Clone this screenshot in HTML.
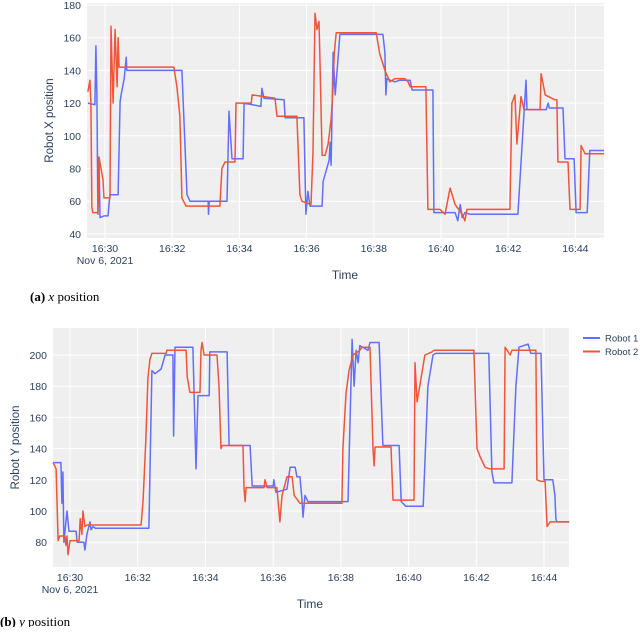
<!DOCTYPE html>
<html><head><meta charset="utf-8"><style>
body{margin:0;background:#fff;width:640px;height:627px;overflow:hidden}
svg text{font-family:"Liberation Sans",sans-serif}
svg text.caption{font-family:"Liberation Serif",serif}
</style></head><body>
<svg id="svg" width="640" height="627"></svg>
<script>
const xTicks=[1,3,5,7,9,11,13,15];
const xTickLabels=["16:30","16:32","16:34","16:36","16:38","16:40","16:42","16:44"];
const topYTicks=[40,60,80,100,120,140,160,180];
const botYTicks=[80,100,120,140,160,180,200];
const seriesNames=["Robot 1","Robot 2"];
const xRobot1=[[0.49,120],[0.70,119],[0.73,155],[0.76,125],[0.79,52],[0.82,87],[0.85,50],[0.97,51],[1.09,51],[1.12,58],[1.15,64],[1.39,64],[1.45,121],[1.48,125],[1.57,135],[1.63,148],[1.65,140],[3.29,140],[3.44,64],[3.53,60],[4.07,60],[4.08,52],[4.10,60],[4.63,60],[4.69,115],[4.78,86],[5.11,86],[5.14,120],[5.64,118],[5.67,129],[5.73,123],[6.33,122],[6.36,111],[6.92,111],[6.98,52],[7.04,66],[7.10,57],[7.46,57],[7.49,72],[7.67,85],[7.70,96],[7.73,82],[7.79,151],[7.85,125],[7.99,162],[9.27,162],[9.33,151],[9.36,125],[9.39,135],[9.48,134],[9.63,133],[9.78,134],[10.08,134],[10.14,128],[10.76,128],[10.79,53],[11.42,53],[11.50,48],[11.57,58],[11.63,50],[11.71,53],[11.86,52],[13.29,52],[13.53,134],[13.56,116],[14.13,116],[14.19,120],[14.22,117],[14.63,117],[14.69,86],[14.96,86],[15.02,53],[15.35,53],[15.43,91],[15.85,91]];
const xRobot2=[[0.49,127],[0.55,134],[0.58,120],[0.61,56],[0.64,53],[0.79,53],[0.82,87],[0.94,73],[0.97,62],[1.15,62],[1.18,167],[1.24,120],[1.30,165],[1.36,130],[1.39,160],[1.42,142],[3.05,142],[3.14,130],[3.23,112],[3.29,62],[3.41,57],[4.42,57],[4.48,80],[4.57,84],[4.87,84],[4.90,120],[5.35,120],[5.38,125],[6.06,123],[6.12,112],[6.71,112],[6.80,64],[6.86,60],[7.13,58],[7.19,90],[7.25,175],[7.31,165],[7.37,170],[7.40,145],[7.46,88],[7.55,88],[7.64,95],[7.73,110],[7.79,130],[7.82,150],[7.88,163],[9.07,163],[9.18,150],[9.33,140],[9.48,133],[9.63,135],[9.93,135],[10.02,133],[10.08,130],[10.55,130],[10.61,55],[10.97,55],[11.12,52],[11.27,68],[11.42,58],[11.63,52],[11.71,48],[11.77,55],[13.05,55],[13.11,120],[13.20,125],[13.26,95],[13.38,124],[13.47,116],[13.95,116],[13.98,138],[14.10,125],[14.39,122],[14.45,122],[14.48,84],[14.78,84],[14.84,55],[15.14,55],[15.17,94],[15.29,89],[15.85,89]];
const yRobot1=[[0.50,131],[0.73,131],[0.76,105],[0.79,125],[0.82,80],[0.91,100],[0.97,87],[1.18,87],[1.21,80],[1.41,80],[1.44,75],[1.50,85],[1.59,93],[1.62,88],[1.68,90],[1.75,89],[3.33,89],[3.42,190],[3.51,188],[3.69,191],[3.81,200],[4.04,200],[4.06,148],[4.10,205],[4.63,205],[4.72,127],[4.78,174],[5.11,174],[5.13,202],[5.64,202],[5.70,142],[6.32,142],[6.38,116],[7.00,116],[7.02,120],[7.08,112],[7.41,114],[7.50,128],[7.65,128],[7.70,122],[7.79,122],[7.85,108],[7.88,96],[7.94,110],[8.03,106],[9.21,106],[9.33,210],[9.39,180],[9.45,203],[9.51,195],[9.56,206],[9.80,203],[9.86,208],[10.13,208],[10.24,142],[10.72,142],[10.78,106],[10.92,103],[11.43,103],[11.57,180],[11.72,200],[11.80,201],[13.37,201],[13.46,125],[13.52,118],[14.05,118],[14.17,180],[14.26,205],[14.53,207],[14.61,201],[14.91,201],[15.0,120],[15.26,120],[15.32,110],[15.35,95],[15.38,93],[15.74,93]];
const yRobot2=[[0.50,131],[0.59,127],[0.65,81],[0.70,84],[0.85,84],[0.88,78],[0.91,84],[0.94,72],[1.0,81],[1.27,81],[1.30,95],[1.35,85],[1.38,100],[1.44,90],[1.50,91],[3.10,91],[3.16,107],[3.24,145],[3.30,185],[3.36,197],[3.42,201],[3.84,201],[3.86,203],[4.43,203],[4.46,186],[4.54,176],[4.84,176],[4.87,203],[4.90,208],[4.96,200],[5.34,200],[5.40,180],[5.46,140],[5.50,142],[6.11,142],[6.14,115],[6.17,106],[6.20,115],[6.73,115],[6.76,120],[6.82,115],[7.11,115],[7.20,93],[7.26,110],[7.41,122],[7.56,122],[7.62,110],[7.79,105],[9.03,105],[9.06,140],[9.15,175],[9.24,190],[9.36,200],[9.56,203],[9.62,205],[9.86,205],[9.95,140],[9.98,129],[10.01,141],[10.48,141],[10.54,107],[11.16,107],[11.19,195],[11.25,170],[11.48,200],[11.69,202],[11.75,203],[12.93,203],[13.02,140],[13.11,135],[13.26,128],[13.40,127],[13.82,127],[13.85,205],[14.0,200],[14.05,203],[14.76,203],[14.79,120],[14.91,119],[15.03,119],[15.09,90],[15.18,93],[15.74,93]];

const NS="http://www.w3.org/2000/svg";
const svg=document.getElementById('svg');
function mk(tag,attrs,parent,txt){const e=document.createElementNS(NS,tag);for(const k in attrs)e.setAttribute(k,attrs[k]);if(txt!==undefined)e.textContent=txt;(parent||svg).appendChild(e);return e;}
const COLORS=["#636efa","#ef553b"];

function chart(cfg){
  const g=mk('g',{});
  
  
  const xs=t=>cfg.x0+(t-cfg.t0)*cfg.pxPerMin;
  const ys=v=>cfg.yRef+(cfg.vRef-v)*cfg.pxPerUnit;
  const bg=mk('rect',{x:cfg.L,y:cfg.T,width:cfg.R-cfg.L,height:cfg.B-cfg.T,fill:'#efefef'},g);
  
  
  cfg.yTicks.forEach(v=>{
    const y=ys(v);
    const gl=mk('line',{x1:cfg.L,x2:cfg.R,y1:y,y2:y,stroke:'#fff','stroke-width':1},g);
    
    
    const tl=mk('text',{x:cfg.L-6,y:y+4,'text-anchor':'end','font-size':10.5,fill:'#2a3f5f'},g,String(v));
    
    
  });
  xTicks.forEach((t,i)=>{
    const x=xs(t);
    const gl=mk('line',{x1:x,x2:x,y1:cfg.T,y2:cfg.B,stroke:'#fff','stroke-width':1},g);
    
    
    const tl=mk('text',{x:x,y:cfg.B+14,'text-anchor':'middle','font-size':10.5,fill:'#2a3f5f'},g,xTickLabels[i]);
    
    
  });
  const d=mk('text',{x:xs(1),y:cfg.B+26,'text-anchor':'middle','font-size':10.5,fill:'#2a3f5f'},g,'Nov 6, 2021');
  
  
  const xt=mk('text',{x:cfg.titleX,y:cfg.B+41,'text-anchor':'middle','font-size':12,fill:'#2a3f5f'},g,'Time');
  
  
  const cy=(cfg.T+cfg.B)/2;
  const yt=mk('text',{x:cfg.yTitleX,y:cy,'text-anchor':'middle','font-size':11.5,fill:'#2a3f5f',transform:`rotate(-90 ${cfg.yTitleX} ${cy})`},g,cfg.yTitle);
  
  
  cfg.series.forEach((s,i)=>{
    const pts=s.map(p=>xs(p[0]).toFixed(1)+','+ys(p[1]).toFixed(1)).join(' ');
    const pl=mk('polyline',{points:pts,fill:'none',stroke:COLORS[i],'stroke-width':1.5,'stroke-linejoin':'round'},g);
    
    
  });
  return g;
}
chart({name:'x-position-chart',L:87,R:604,T:3,B:238,x0:105,t0:1,pxPerMin:33.6,yRef:5,vRef:180,pxPerUnit:32.7/20,
  yTicks:topYTicks,series:[xRobot1,xRobot2],yTitle:'Robot X position',yTitleX:53,titleX:345});
chart({name:'y-position-chart',L:53,R:569,T:328,B:567,x0:70,t0:1,pxPerMin:33.86,yRef:355,vRef:200,pxPerUnit:31.2/20,
  yTicks:botYTicks,series:[yRobot1,yRobot2],yTitle:'Robot Y position',yTitleX:19,titleX:310});

// legend
seriesNames.forEach((n,i)=>{
  const y=338+i*13.5;
  const l=mk('line',{x1:583,x2:600,y1:y,y2:y,stroke:COLORS[i],'stroke-width':2});
  
  
  const t=mk('text',{x:605,y:y+3.5,'font-size':9.5,fill:'#2a3f5f'},null,n);
  
  
});
// captions
const c1=mk('text',{x:30,y:301,'font-size':13,fill:'#000','class':'caption'});


mk('tspan',{'font-weight':'bold'},c1,'(a) ');mk('tspan',{'font-style':'italic'},c1,'x');mk('tspan',{},c1,' position');
const c2=mk('text',{x:0,y:626,'font-size':13,fill:'#000','class':'caption'});


mk('tspan',{'font-weight':'bold'},c2,'(b) ');mk('tspan',{'font-style':'italic'},c2,'y');mk('tspan',{},c2,' position');
</script>
</body></html>
